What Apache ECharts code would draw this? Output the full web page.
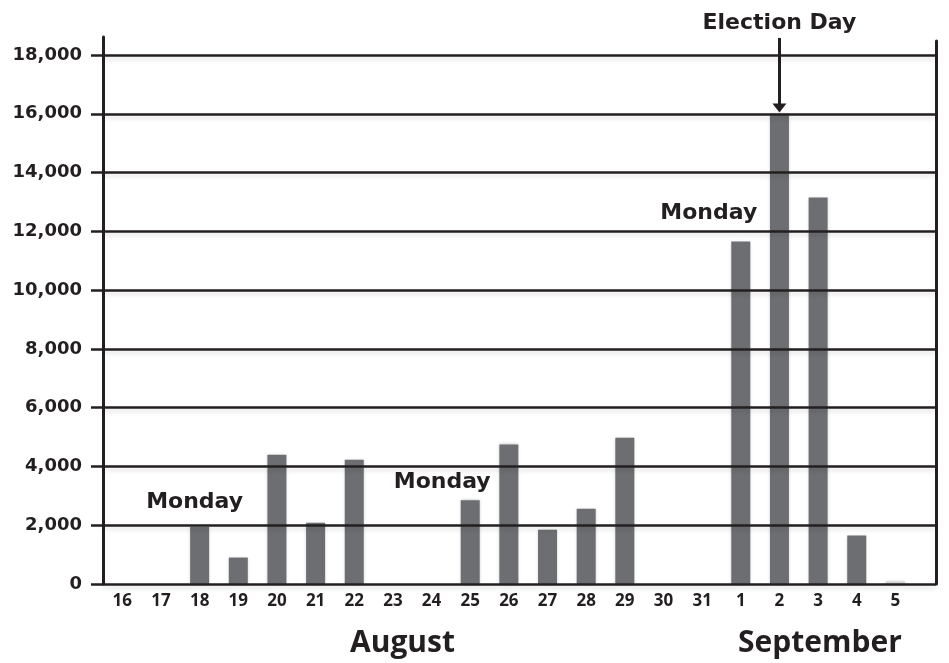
<!DOCTYPE html>
<html><head><meta charset="utf-8">
<script src="https://cdn.jsdelivr.net/npm/echarts@6/dist/echarts.min.js"></script>
<style>html,body{margin:0;padding:0;background:#fff}#c{width:949px;height:663px}</style>
</head><body><div id="c"></div>
<script>
// ---- data ----
const days = ['16','17','18','19','20','21','22','23','24','25','26','27','28','29','30','31','1','2','3','4','5'];
const votes = [0,0,1950,900,4400,2080,4230,0,0,2850,4750,1850,2560,4980,0,0,11650,16000,13150,1650,80];
const yTickStep = 2000;
const yMax = 18000;
const mondayDays = ['18','25','1'];
const mondayText = 'Monday';
const electionDayLabel = 'Election Day';
const electionDay = '2';
const months = ['August','September'];

// ---- styling / layout ----
const INK = '#231f20';
const BAR = '#6d6e71';
const W = 949, H = 663;
const gBottom = 79, gLeft = 103, gRight = 13;
const plotTop = 55, frameTop = 37, rightFrameTop = 41;
const frameMax = yMax * (H - gBottom - frameTop) / (H - gBottom - plotTop);
const noteOffsets = { '18': [-5, -8], '25': [-28, -2], '1': [-32, -12] };
const xMin = -0.5, xMax = 21.05;

const eIdx = days.indexOf(electionDay);

const barData = votes.map((v, i) => {
  const item = { value: [i, v] };
  if (v < 200) item.itemStyle = { color: '#d2d2d4' };
  const d = days[i];
  if (mondayDays.includes(d)) {
    item.label = {
      show: true, position: 'top', formatter: mondayText, offset: noteOffsets[d],
      fontFamily: 'DejaVu Sans', fontWeight: 'bold', fontSize: 22, color: INK
    };
  }
  return item;
});

const chart = echarts.init(document.getElementById('c'), null, { renderer: 'canvas' });
chart.setOption({
  animation: false,
  backgroundColor: '#fff',
  grid: [
    { left: gLeft, right: gRight, top: frameTop, bottom: gBottom },
    { left: gLeft, right: gRight, top: plotTop, bottom: gBottom },
    { left: gLeft, right: gRight, top: rightFrameTop, bottom: gBottom }
  ],
  xAxis: [
    { type: 'value', gridIndex: 0, min: xMin, max: xMax, interval: 0.5,
      axisLine: { show: false, onZero: false }, axisTick: { show: false }, splitLine: { show: false },
      axisLabel: {
        margin: 9, fontFamily: 'Open Sans', fontWeight: 'bold', fontSize: 17, color: INK,
        showMinLabel: true, showMaxLabel: false,
        formatter: v => (Number.isInteger(v) && v >= 0 && v < days.length) ? days[v] : ''
      } },
    { type: 'value', gridIndex: 1, min: xMin, max: xMax, show: false, axisLine: { onZero: false } },
    { type: 'value', gridIndex: 2, min: xMin, max: xMax, show: false, axisLine: { onZero: false } }
  ],
  yAxis: [
    { type: 'value', gridIndex: 0, min: 0, max: frameMax,
      axisLine: { show: true, onZero: false, lineStyle: { color: INK, width: 3 } },
      axisTick: { show: false }, axisLabel: { show: false }, splitLine: { show: false } },
    { type: 'value', gridIndex: 1, min: 0, max: yMax, interval: yTickStep, z: 5,
      axisLine: { show: false, onZero: false },
      axisTick: { show: true, length: 12, lineStyle: { color: INK, width: 2.5 } },
      splitLine: { show: true, lineStyle: { color: INK, width: 2.5, shadowColor: 'rgba(0,0,0,0.12)', shadowBlur: 4, shadowOffsetY: 3 } },
      axisLabel: { margin: 21, fontFamily: 'DejaVu Sans', fontWeight: 'bold', fontSize: 18, color: INK,
        formatter: v => v.toLocaleString('en-US') } },
    { type: 'value', gridIndex: 2, position: 'right', min: 0, max: 1,
      axisLine: { show: true, onZero: false, lineStyle: { color: INK, width: 3 } },
      axisTick: { show: false }, axisLabel: { show: false }, splitLine: { show: false } }
  ],
  series: [{
    type: 'bar', xAxisIndex: 0, yAxisIndex: 0, barWidth: 19, clip: false,
    itemStyle: { color: BAR, shadowColor: 'rgba(80,80,85,0.35)', shadowBlur: 3 },
    data: barData,
    markLine: {
      silent: true, animation: false,
      symbol: ['none', 'triangle'], symbolSize: [14, 9],
      lineStyle: { color: INK, width: 3, type: 'solid' },
      label: { show: true, position: 'start', distance: 4, formatter: electionDayLabel,
        fontFamily: 'DejaVu Sans', fontWeight: 'bold', fontSize: 22, color: INK },
      emphasis: { disabled: true },
      data: [[ { coord: [eIdx, 18580] }, { coord: [eIdx, votes[eIdx] + 200] } ]]
    }
  }],
  graphic: [
    { type: 'text', left: 350, top: 628, style: { text: months[0], font: 'bold 30px "Open Sans"', fill: INK } },
    { type: 'text', left: 738, top: 628, style: { text: months[1], font: 'bold 30px "Open Sans"', fill: INK } }
  ]
});
</script>
</body></html>
